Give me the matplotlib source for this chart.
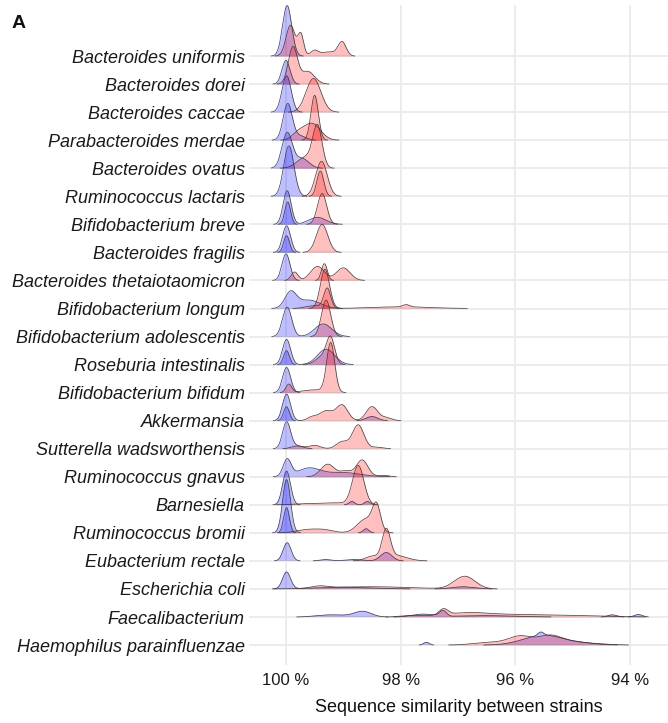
import numpy as np
import matplotlib
matplotlib.use("Agg")
import matplotlib.pyplot as plt

species = [
    "Bacteroides uniformis", "Bacteroides dorei", "Bacteroides caccae",
    "Parabacteroides merdae", "Bacteroides ovatus", "Ruminococcus lactaris",
    "Bifidobacterium breve", "Bacteroides fragilis", "Bacteroides thetaiotaomicron",
    "Bifidobacterium longum", "Bifidobacterium adolescentis", "Roseburia intestinalis",
    "Bifidobacterium bifidum", "Akkermansia", "Sutterella wadsworthensis",
    "Ruminococcus gnavus", "Barnesiella", "Ruminococcus bromii",
    "Eubacterium rectale", "Escherichia coli", "Faecalibacterium",
    "Haemophilus parainfluenzae",
]

# Peaks: (similarity %, spread %, height in row units)
blue_main = [
    [(99.98, 0.08, 1.8)],
    [(100.0, 0.07, 0.85)],
    [(99.99, 0.08, 1.3)],
    [(99.97, 0.08, 1.3), (99.75, 0.1, 0.15)],
    [(99.98, 0.09, 1.25), (99.72, 0.12, 0.35)],
    [(99.95, 0.09, 1.8)],
    [(99.98, 0.07, 1.2), (99.45, 0.15, 0.25)],
    [(99.99, 0.07, 0.95)],
    [(100.0, 0.07, 0.95)],
    [(99.92, 0.1, 0.55), (99.6, 0.2, 0.3)],
    [(99.98, 0.08, 1.05), (99.35, 0.15, 0.45)],
    [(99.99, 0.07, 0.9), (99.3, 0.15, 0.55)],
    [(99.99, 0.07, 0.9)],
    [(99.99, 0.07, 0.95), (98.5, 0.1, 0.15)],
    [(99.99, 0.07, 0.95), (99.8, 0.1, 0.1)],
    [(99.98, 0.07, 0.6), (99.6, 0.2, 0.3), (99.0, 0.3, 0.15)],
    [(99.99, 0.07, 1.2), (98.85, 0.05, 0.12), (98.58, 0.05, 0.12)],
    [(99.99, 0.07, 1.9), (98.6, 0.05, 0.15)],
    [(99.98, 0.07, 0.65), (99.3, 0.1, 0.05), (98.8, 0.15, 0.05), (98.25, 0.1, 0.3)],
    [(99.99, 0.07, 0.6), (99.0, 0.5, 0.06), (96.9, 0.2, 0.08)],
    [(98.66, 0.15, 0.2), (99.2, 0.25, 0.08), (97.26, 0.06, 0.2), (97.6, 0.2, 0.1),
     (94.3, 0.08, 0.08), (93.85, 0.07, 0.09), (96.5, 0.5, 0.05)],
    [(95.5, 0.35, 0.35), (95.55, 0.05, 0.12), (97.55, 0.05, 0.1), (94.7, 0.3, 0.05)],
]

blue_extra = [
    [], [], [], [], [], [],
    [(99.97, 0.05, 0.8)],
    [(99.99, 0.05, 0.6)],
    [], [], [],
    [(99.99, 0.05, 0.5)],
    [],
    [(99.99, 0.05, 0.5)],
    [], [], [],
    [(99.99, 0.05, 0.9)],
    [], [], [], [],
]

red_main = [
    [(99.92, 0.08, 1.1), (99.74, 0.05, 0.75), (99.5, 0.07, 0.2), (99.25, 0.12, 0.15), (99.02, 0.07, 0.5)],
    [(99.88, 0.08, 1.3), (99.62, 0.12, 0.45)],
    [(99.52, 0.13, 1.2)],
    [(99.5, 0.065, 1.6)],
    [(99.45, 0.08, 1.4), (99.65, 0.15, 0.4)],
    [(99.38, 0.1, 1.25)],
    [(99.37, 0.08, 1.1)],
    [(99.37, 0.1, 1.0)],
    [(99.85, 0.06, 0.3), (99.45, 0.12, 0.5), (99.0, 0.12, 0.45)],
    [(99.32, 0.08, 1.4), (98.0, 0.5, 0.06), (97.9, 0.06, 0.08)],
    [(99.3, 0.08, 1.3)],
    [(99.22, 0.07, 0.85), (99.35, 0.12, 0.3)],
    [(99.22, 0.07, 1.75), (99.95, 0.05, 0.3), (99.5, 0.2, 0.1)],
    [(99.55, 0.08, 0.12), (99.3, 0.12, 0.35), (99.02, 0.1, 0.55), (98.5, 0.1, 0.5), (98.25, 0.1, 0.1)],
    [(98.74, 0.1, 0.85), (99.02, 0.1, 0.25), (99.5, 0.1, 0.12), (99.8, 0.1, 0.1), (98.4, 0.1, 0.05)],
    [(99.27, 0.12, 0.45), (98.67, 0.1, 0.6), (98.95, 0.1, 0.2), (98.3, 0.1, 0.05)],
    [(98.74, 0.1, 1.4), (99.5, 0.3, 0.05), (99.1, 0.15, 0.05)],
    [(98.42, 0.07, 0.85), (98.6, 0.15, 0.5), (99.6, 0.2, 0.12), (99.3, 0.15, 0.08)],
    [(98.25, 0.07, 1.0), (98.1, 0.2, 0.2), (98.5, 0.12, 0.15)],
    [(96.88, 0.18, 0.45), (98.5, 0.7, 0.08), (99.4, 0.15, 0.08)],
    [(97.25, 0.08, 0.22), (96.8, 0.4, 0.15), (95.8, 0.5, 0.08), (94.8, 0.5, 0.04), (97.8, 0.2, 0.05)],
    [(95.9, 0.2, 0.3), (95.4, 0.2, 0.3), (95.0, 0.3, 0.12), (96.4, 0.3, 0.1)],
]

red_extra = [
    [], [], [],
    [(99.55, 0.15, 0.6), (99.8, 0.1, 0.2)],
    [],
    [(99.4, 0.06, 0.9)],
    [], [],
    [(99.33, 0.05, 0.6)],
    [(99.28, 0.06, 0.7), (99.5, 0.15, 0.1)],
    [], [], [], [], [], [], [], [], [], [], [], [],
]

x_ticks = [100, 98, 96, 94]
x_ticklabels = ["100 %", "98 %", "96 %", "94 %"]

plt.rcParams['font.family'] = ['Liberation Sans', 'DejaVu Sans']

fig = plt.figure(figsize=(6.68, 7.23), dpi=100)
ax = fig.add_axes([249 / 668, 1 - 665 / 723, 1 - 249 / 668, 660 / 723])

n = len(species)
xs = np.linspace(93.3, 100.7, 3000)


def curve(peaks):
    y = np.zeros_like(xs)
    for c, s, h in peaks:
        y += h * np.exp(-0.5 * ((xs - c) / s) ** 2)
    y[xs > 100.26] = 0.0
    return y


grid_c = "#ebebeb"
for t in x_ticks:
    ax.axvline(t, color=grid_c, lw=1.3, zorder=0)
for i in range(n):
    ax.axhline(n - 1 - i, color=grid_c, lw=1.3, zorder=0)

for i in range(n):
    base = n - 1 - i
    layers = [("blue", blue_main[i]), ("red", red_main[i]),
              ("blue", blue_extra[i]), ("red", red_extra[i])]
    z = 2 + i * 2
    for col, peaks in layers:
        if not peaks:
            continue
        y = curve(peaks)
        mask = y > 0.004
        ax.fill_between(xs, base, base + y, where=mask, color=col, alpha=0.25,
                        lw=0, zorder=z)
        yl = np.where(mask, base + y, np.nan)
        ax.plot(xs, yl, color="#333333", lw=0.55, alpha=0.9, zorder=z + 1)

ax.set_xlim(100.646, 93.333)
ax.set_ylim(-0.71, n - 1 + 51 / 28)
ax.set_yticks(range(n))
ax.set_yticklabels(species[::-1], style="italic", fontsize=13.0, color="#1a1a1a")
ax.set_xticks(x_ticks)
ax.set_xticklabels(x_ticklabels, fontsize=12, color="#1a1a1a")
ax.tick_params(length=0, pad=3)
ax.tick_params(axis="x", pad=6)
for s in ax.spines.values():
    s.set_visible(False)
ax.set_xlabel("Sequence similarity between strains", fontsize=13, color="#111111", labelpad=8)

fig.text(12 / 668, 1 - 28 / 723, "A", fontsize=14, fontweight="bold", color="#111111")

fig.savefig("out.png", dpi=100)
